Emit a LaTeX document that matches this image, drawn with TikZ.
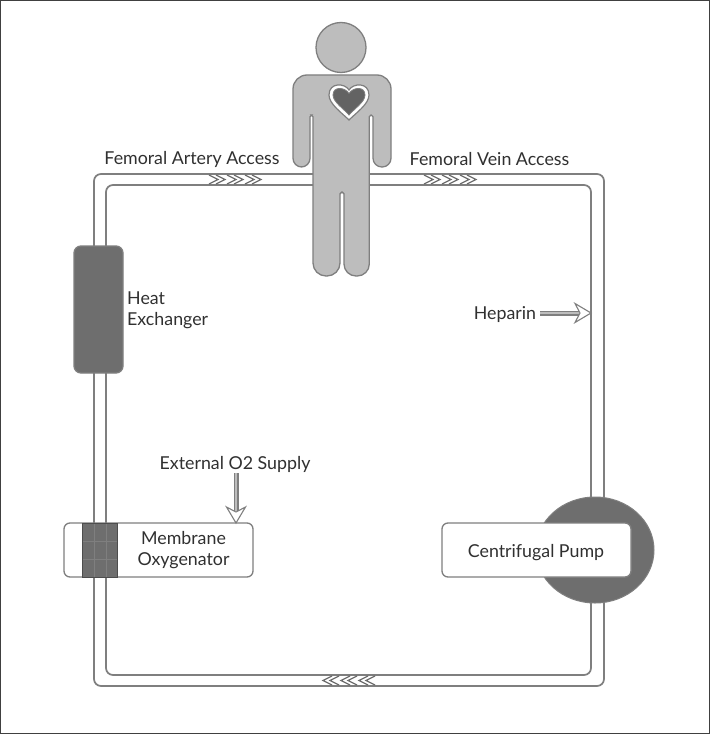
\documentclass[tikz,border=0pt]{standalone}
\usepackage{fontspec}
\setmainfont{Lato}
\usetikzlibrary{calc,arrows.meta,shapes.geometric}
\definecolor{lineg}{HTML}{7F7F7F}
\definecolor{darkg}{HTML}{6E6E6E}
\definecolor{bodyg}{HTML}{BDBDBD}
\definecolor{txt}{HTML}{303030}
\tikzset{
  x=1pt,y=-1pt,
  tube/.style={draw=lineg,line width=1.7pt,rounded corners=7pt},
  dark/.style={draw=lineg,line width=1.3pt,fill=darkg},
  whitebox/.style={draw=lineg,line width=1.3pt,fill=white,rounded corners=6pt},
  lab/.style={text=txt,font=\fontsize{17.8}{20.5}\selectfont,inner sep=0pt,align=center},
  labl/.style={lab,align=left},
  shaft/.style={draw=lineg,line width=5pt},
  shaftin/.style={draw=bodyg,line width=2.8pt},
  chev/.style={draw=darkg,line width=1.2pt,line join=miter},
  hollowhead/.pic={\draw[draw=lineg,line width=1.1pt,fill=white,line join=miter]
     (0,0) -- (-16,-9.5) -- (-11,0) -- (-16,9.5) -- cycle;},
  chevrongroup/.pic={\foreach \k in {0,18,36}{
     \draw[chev] (\k,-4.5) -- (\k+9,0) -- (\k,4.5);
     \draw[chev] (\k+7,-4.5) -- (\k+16,0) -- (\k+7,4.5);}},
}
\begin{document}
\begin{tikzpicture}
\useasboundingbox (0,0) rectangle (711,735);
\fill[white] (0,0) rectangle (711,735);
\draw[black!75,line width=1.2pt] (0.5,0.5) rectangle (709.5,733.5);

% tubing loop
\node[tube,minimum width=510pt,minimum height=512pt,inner sep=0pt] (outer) at (349,430) {};
\node[tube,minimum width=485pt,minimum height=490pt,inner sep=0pt] (inner) at (348.5,430) {};

% flow chevrons
\coordinate (chA) at (209,179.5);
\coordinate (chB) at (424,179.5);
\coordinate (chC) at (375,680.5);
\pic at (chA) {chevrongroup};
\pic at (chB) {chevrongroup};
\pic[rotate=180] at (chC) {chevrongroup};

% person
\node[circle,draw=lineg,line width=1.3pt,fill=bodyg,minimum size=50pt,inner sep=0pt] (head) at (341,47.5) {};
\draw[draw=lineg,line width=1.3pt,fill=bodyg,rounded corners=14pt]
  (340,75) -- (391,75) [rounded corners=8.8pt] -- (391,167) -- (373,167)
  [rounded corners=1.7pt] -- (373,115) -- (369.3,115)
  [rounded corners=12pt] -- (369.3,276) -- (344,276)
  [rounded corners=1.9pt] -- (344,192) -- (340,192)
  [rounded corners=13pt] -- (340,276) -- (313,276)
  [rounded corners=1.7pt] -- (313,115) -- (310,115)
  [rounded corners=8.7pt] -- (310,167) -- (293,167)
  [rounded corners=14pt] -- (293,75) -- cycle;
\draw[draw=lineg,line width=1.2pt,fill=white]
  (349,120) .. controls (342,113) and (329,104) .. (329,95)
  .. controls (329,82) and (345,83) .. (349,90)
  .. controls (353,83) and (369,82) .. (369,95)
  .. controls (369,104) and (356,113) .. (349,120) -- cycle;
\draw[draw=lineg,line width=0.8pt,fill=darkg!90!black]
  (349,115) .. controls (344,109) and (333,102) .. (333,95)
  .. controls (333,86) and (345,87) .. (349,93.5)
  .. controls (353,87) and (365,86) .. (365,95)
  .. controls (365,102) and (354,109) .. (349,115) -- cycle;

% heat exchanger
\node[dark,rounded corners=7pt,minimum width=49pt,minimum height=127pt,inner sep=0pt] (hx) at (98.5,309.5) {};
\node[labl,anchor=west] (hxl) at (127,310) {Heat\\Exchanger};

% oxygenator
\node[whitebox,minimum width=189pt,minimum height=54pt,inner sep=0pt] (oxy) at (158.5,550) {};
\fill[darkg] (82,523) rectangle (117,577);
\draw[draw=lineg,line width=1pt] (94,523)--(94,577) (106,523)--(106,577) (82,541)--(117,541) (82,559)--(117,559);
\draw[draw=darkg!70!black,line width=1pt] (82,523) rectangle (117,577);
\node[lab] (oxyl) at (183.5,550) {Membrane\\Oxygenator};

% pump
\node[ellipse,draw=lineg,line width=1pt,fill=darkg,minimum width=118pt,minimum height=106pt,inner sep=0pt] (pumpc) at (595,550) {};
\node[whitebox,minimum width=189pt,minimum height=54pt,inner sep=0pt] (pump) at (536.5,550) {};
\node[lab] (pumpl) at (536,553) {Centrifugal Pump};

% labels
\node[lab] (fa) at (192,159) {Femoral Artery Access};
\node[lab] (fv) at (489.5,159) {Femoral Vein Access};
\node[lab] (hep) at (505,315) {Heparin};
\node[lab] (o2) at (235,464.5) {External O2 Supply};

% hollow arrows
\coordinate (hepTip) at (591,313);
\coordinate (o2Tip) at (236,523);
\draw[shaft,shorten >=12pt] (540,313) -- (hepTip);
\draw[shaftin,shorten >=12pt] (540,313) -- (hepTip);
\pic at (hepTip) {hollowhead};
\draw[shaft,shorten >=12pt] (236,473) -- (o2Tip);
\draw[shaftin,shorten >=12pt] (236,473) -- (o2Tip);
\pic[rotate=-90] at (o2Tip) {hollowhead};
\end{tikzpicture}
\end{document}
